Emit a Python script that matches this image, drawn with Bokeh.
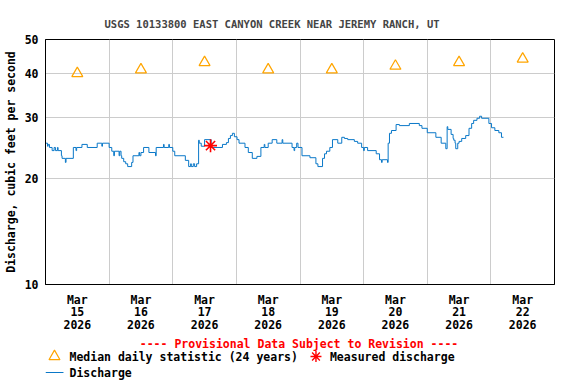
from bokeh.plotting import figure
from bokeh.models import Range1d, FixedTicker, PrintfTickFormatter
from bokeh.layouts import column
from bokeh.core.properties import value
from bokeh.embed import file_html
from bokeh.resources import INLINE

FONT = "DejaVu Sans Mono"

# ---- data (hours since 2026-03-15 00:00, discharge in cfs) ----
hours = [0, 0.75, 1.0, 1.5, 2.5, 3.25, 3.75, 4.5, 4.75, 6.0,
         6.25, 7.5, 7.75, 10.5, 11.5, 11.75, 13.75, 15.75, 19.5, 21.25,
         21.5, 24.0, 25.0, 25.75, 26.0, 27.75, 28.0, 28.5, 28.75, 29.5,
         30.25, 31.0, 32.5, 33.0, 35.25, 35.5, 36.0, 37.0, 39.0, 41.5,
         41.75, 44.5, 44.75, 46.5, 46.75, 48.0, 48.75, 52.75, 54.0, 54.75,
         55.0, 55.75, 56.25, 57.0, 57.75, 58.0, 58.75, 60.0, 62.5, 66.75,
         68.25, 69.0, 69.75, 70.5, 71.25, 72.25, 73.0, 75.25, 76.5, 78.0,
         79.75, 81.25, 82.5, 82.75, 84.0, 85.5, 87.25, 89.25, 89.5, 93.0,
         93.75, 94.0, 94.75, 95.25, 96.75, 99.75, 102.0, 102.75, 104.5, 105.25,
         106.0, 107.25, 108.25, 110.25, 111.75, 112.75, 114.0, 116.5, 117.75, 119.25,
         120.0, 120.25, 121.5, 124.75, 126.0, 126.75, 127.0, 129.0, 129.25, 129.75,
         130.5, 132.25, 133.5, 137.25, 141.0, 142.0, 144.0, 147.25, 149.25, 151.0,
         151.5, 151.75, 153.0, 153.75, 154.0, 154.5, 154.75, 155.5, 156.0, 157.0,
         158.5, 159.75, 160.75, 161.5, 162.75, 163.75, 164.5, 167.25, 168.25, 169.5,
         171.0, 172.0, 172.75]
discharge = [25.3, 24.8, 25.1, 24.6, 24.1, 24.6, 24.1, 24.6, 24.1, 23.3,
             22.9, 22.3, 22.9, 24.6, 24.1, 24.6, 25.1, 24.6, 25.3, 24.8,
             25.3, 24.6, 24.0, 23.3, 24.0, 23.3, 24.0, 23.3, 22.9, 22.4,
             22.1, 21.7, 22.3, 23.3, 23.8, 23.3, 23.8, 24.6, 23.8, 23.3,
             24.6, 25.1, 24.6, 25.1, 24.6, 24.0, 23.3, 22.6, 21.7, 22.1,
             21.7, 22.1, 21.7, 22.1, 25.8, 25.3, 24.8, 25.9, 24.6, 25.1,
             25.4, 26.1, 26.6, 27.0, 26.4, 25.9, 25.3, 24.6, 23.8, 22.9,
             23.2, 24.6, 25.1, 24.6, 25.3, 25.9, 25.3, 25.9, 25.3, 24.6,
             24.1, 24.6, 25.3, 24.6, 23.3, 23.0, 22.1, 21.7, 22.9, 23.6,
             24.0, 24.6, 25.9, 25.3, 26.3, 26.1, 25.9, 25.6, 25.3, 24.6,
             24.1, 24.6, 24.1, 23.6, 22.7, 22.3, 22.7, 22.3, 25.3, 27.0,
             27.5, 28.6, 28.4, 28.8, 28.4, 27.9, 27.1, 26.3, 25.3, 24.4,
             28.2, 27.7, 26.8, 26.1, 25.8, 25.3, 24.4, 25.3, 25.6, 26.1,
             26.6, 27.9, 28.8, 29.4, 29.8, 30.2, 29.8, 28.8, 28.0, 27.5,
             27.1, 26.3, 26.3]

median_hours = [12, 36, 60, 84, 108, 132, 156, 180]
median_values = [40, 41, 43, 41, 41, 42, 43, 44]

measured_hours = [62.25]
measured_values = [24.9]

day_labels = ["Mar\n15\n2026", "Mar\n16\n2026", "Mar\n17\n2026", "Mar\n18\n2026",
              "Mar\n19\n2026", "Mar\n20\n2026", "Mar\n21\n2026", "Mar\n22\n2026"]
day_bounds = [24, 48, 72, 96, 120, 144, 168]
y_ticks = [10, 20, 30, 40, 50]

TITLE = "USGS 10133800 EAST CANYON CREEK NEAR JEREMY RANCH, UT"
YLABEL = "Discharge, cubic feet per second"
NOTICE = "---- Provisional Data Subject to Revision ----"
LEG_MEDIAN = "Median daily statistic (24 years)"
LEG_MEASURED = "Measured discharge"
LEG_LINE = "Discharge"

BLUE = "#0a78c8"
ORANGE = "#ffa500"
RED = "#ff0000"

# ---- main chart ----
p = figure(width=560, height=336, x_range=Range1d(0, 192), y_range=Range1d(10, 50),
           y_axis_type="log", output_backend="svg", toolbar_location=None,
           min_border_left=44, min_border_right=6, min_border_top=39, min_border_bottom=52)
p.background_fill_color = "white"
p.border_fill_color = "white"
p.outline_line_color = "black"
p.outline_line_width = 1

p.title.text = TITLE
p.title.text_font = FONT
p.title.text_font_size = "10.5px"
p.title.text_font_style = "bold"
p.title.align = "left"
p.title.offset = 59
p.title.standoff = 20

p.xgrid.ticker = FixedTicker(ticks=day_bounds)
p.ygrid.ticker = FixedTicker(ticks=y_ticks)
p.grid.grid_line_color = "#cccccc"
p.grid.grid_line_width = 1

p.xaxis.ticker = FixedTicker(ticks=median_hours)
p.xaxis.major_label_overrides = {h: lab for h, lab in zip(median_hours, day_labels)}
p.yaxis.ticker = FixedTicker(ticks=y_ticks)
p.yaxis.formatter = PrintfTickFormatter(format="%d")
p.yaxis.axis_label = YLABEL
for ax in (p.xaxis, p.yaxis):
    ax.major_tick_out = 0
    ax.major_tick_in = 0
    ax.minor_tick_out = 0
    ax.minor_tick_in = 0
    ax.axis_line_color = "black"
    ax.major_label_text_font = FONT
    ax.major_label_text_font_size = "11.5px"
    ax.major_label_text_font_style = "bold"
    ax.major_label_text_color = "black"
p.xaxis.major_label_standoff = 8
p.xaxis.major_label_text_line_height = 0.9
p.yaxis.major_label_standoff = 7
p.yaxis.axis_label_standoff = 4
p.yaxis.axis_label_text_font = FONT
p.yaxis.axis_label_text_font_size = "11.5px"
p.yaxis.axis_label_text_font_style = "bold"
p.yaxis.axis_label_text_color = "black"

p.step(hours, discharge, mode="after", line_color=BLUE, line_width=1)
p.scatter(median_hours, median_values, marker="triangle", size=11,
          fill_color=None, line_color=ORANGE, line_width=1.2)
p.scatter(measured_hours, measured_values, marker="asterisk", size=13,
          line_color=RED, line_width=1.6)

# ---- legend / notice strip (x in pixels, frame aligned with the chart's frame) ----
q = figure(width=560, height=48, x_range=Range1d(44, 554), y_range=Range1d(48, 0),
           output_backend="svg", toolbar_location=None,
           x_axis_location=None, y_axis_location=None,
           min_border_left=44, min_border_right=6, min_border_top=0, min_border_bottom=0)
q.grid.visible = False
q.outline_line_color = None
q.background_fill_color = "white"
q.border_fill_color = "white"

txt = dict(text_baseline="middle", text_font=value(FONT), text_font_style="bold",
           text_font_size="11.5px")
q.text(x=[298], y=[7], text=[NOTICE], text_align="center", text_color=RED, **txt)
q.scatter([53], [20], marker="triangle", size=11, fill_color=None,
          line_color=ORANGE, line_width=1.2)
q.text(x=[68], y=[20], text=[LEG_MEDIAN], text_align="left", text_color="black", **txt)
q.scatter([315], [20], marker="asterisk", size=11, line_color=RED, line_width=1.4)
q.text(x=[329], y=[20], text=[LEG_MEASURED], text_align="left", text_color="black", **txt)
q.line([44, 62], [36, 36], line_color=BLUE, line_width=1.2)
q.text(x=[68], y=[36], text=[LEG_LINE], text_align="left", text_color="black", **txt)

layout = column(p, q, spacing=0)
open("out.html", "w").write(file_html(layout, INLINE))
